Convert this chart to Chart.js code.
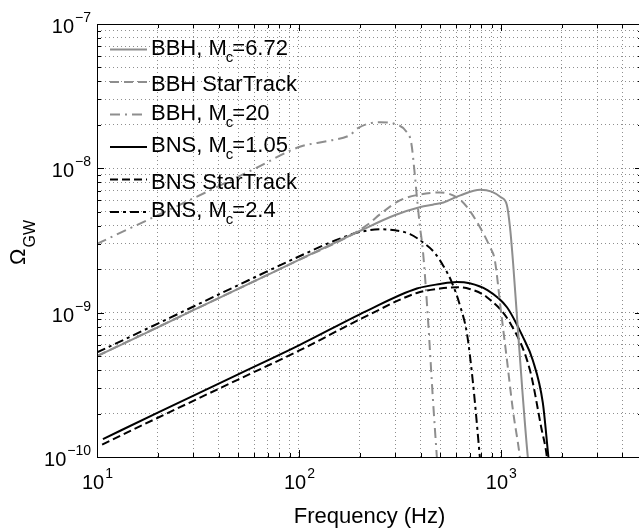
<!DOCTYPE html>
<html>
<head>
<meta charset="utf-8">
<script src="https://cdn.jsdelivr.net/npm/chart.js@4.4.1/dist/chart.umd.min.js"></script>
<style>
    html, body { margin: 0; padding: 0; background: #fff; overflow: hidden; }
    #wrap { position: relative; width: 645px; height: 528px; }
</style>
</head>
<body>
<div id="wrap"><canvas id="gw-chart" width="645" height="528"></canvas></div>
<script>
// Omega_GW spectra (frequency in Hz)
const bbh672Freq = [10, 20, 30, 50, 100, 200, 300, 400, 460, 520, 630, 790, 900, 1000, 1070, 1110, 1150, 1210, 1280, 1360, 1420];
const bbh672Omega = [5.0e-10, 7.9e-10, 1.04e-9, 1.46e-9, 2.32e-9, 3.68e-9, 4.75e-9, 5.4e-9, 5.6e-9, 5.8e-9, 6.5e-9, 7.1e-9, 6.9e-9, 6.3e-9, 5.6e-9, 3.9e-9, 2.2e-9, 8.2e-10, 2.8e-10, 1.0e-10, 6e-11];

const bbhStarFreq = [10, 30, 100, 180, 220, 252, 316, 400, 500, 605, 679, 787, 883, 933, 1000, 1072, 1148, 1242, 1290];
const bbhStarOmega = [5.0e-10, 1.04e-9, 2.32e-9, 3.43e-9, 4.1e-9, 4.8e-9, 6.0e-9, 6.6e-9, 6.8e-9, 6.3e-9, 5.4e-9, 3.92e-9, 2.85e-9, 2.32e-9, 1.04e-9, 4.7e-10, 2.1e-10, 1.0e-10, 6e-11];

const bbh20Freq = [10, 30, 60, 101, 140, 179, 196, 252, 299, 340, 360, 375, 384, 397, 411, 435, 461, 482, 495];
const bbh20Omega = [3.0e-9, 6.2e-9, 9.9e-9, 1.41e-8, 1.55e-8, 1.70e-8, 1.90e-8, 2.09e-8, 2.03e-8, 1.8e-8, 1.5e-8, 9.0e-9, 6.3e-9, 4.0e-9, 2.7e-9, 9.3e-10, 2.5e-10, 1.0e-10, 6e-11];

const bns105Freq = [10.7, 20, 50, 100, 217, 384, 500, 605, 700, 853, 1072, 1285, 1438, 1614, 1720, 1770];
const bns105Omega = [1.33e-10, 2.03e-10, 3.74e-10, 5.94e-10, 1.03e-9, 1.47e-9, 1.58e-9, 1.63e-9, 1.6e-9, 1.44e-9, 1.09e-9, 6.8e-10, 4.7e-10, 2.37e-10, 1.0e-10, 7e-11];

const bnsStarFreq = [10.6, 20, 50, 100, 217, 384, 500, 605, 700, 853, 1110, 1393, 1585, 1690, 1730];
const bnsStarOmega = [1.22e-10, 1.87e-10, 3.44e-10, 5.45e-10, 9.5e-10, 1.37e-9, 1.47e-9, 1.5e-9, 1.46e-9, 1.28e-9, 8.5e-10, 4.0e-10, 1.6e-10, 1.0e-10, 7e-11];

const bns24Freq = [10, 20, 50, 100, 150, 200, 258, 300, 355, 420, 470, 520, 571, 630, 679, 727, 787, 805];
const bns24Omega = [5.3e-10, 8.4e-10, 1.55e-9, 2.45e-9, 3.15e-9, 3.62e-9, 3.78e-9, 3.72e-9, 3.5e-9, 3.0e-9, 2.6e-9, 2.1e-9, 1.63e-9, 1.1e-9, 7.2e-10, 3.3e-10, 1.0e-10, 7e-11];

// axes
const xDecades = [10, 100, 1000];
const xMajorTicks = [10, 100, 1000];
const xMajorExponents = ['1', '2', '3'];
const yDecades = [1e-10, 1e-9, 1e-8];
const yMajorTicks = [1e-10, 1e-9, 1e-8, 1e-7];
const yMajorExponents = ['\u221210', '\u22129', '\u22128', '\u22127'];
const mantissas = [1, 2, 3, 4, 5, 6, 7, 8, 9];

const xMin = 10;
const xMax = 5000;
const yMin = 1e-10;
const yMax = 1e-7;

const xTickValues = xDecades.flatMap((d) => mantissas.map((m) => m * d)).filter((v) => v <= xMax);
const yTickValues = yDecades.flatMap((d) => mantissas.map((m) => m * d)).concat([yMax]);

const GRAY = '#8e8e8e';
const BLACK = '#000000';
const FONT = '"Liberation Sans", Arial, Helvetica, sans-serif';

const toPoints = (freq, omega) => freq.map((f, i) => ({ x: f, y: omega[i] }));

const series = [
    { label: ['BBH, M', 'c', '=6.72'], color: GRAY, dash: [], freq: bbh672Freq, omega: bbh672Omega },
    { label: ['BBH StarTrack'], color: GRAY, dash: [9, 5], freq: bbhStarFreq, omega: bbhStarOmega },
    { label: ['BBH, M', 'c', '=20'], color: GRAY, dash: [10, 5, 2, 5], freq: bbh20Freq, omega: bbh20Omega },
    { label: ['BNS, M', 'c', '=1.05'], color: BLACK, dash: [], freq: bns105Freq, omega: bns105Omega },
    { label: ['BNS StarTrack'], color: BLACK, dash: [8, 4], freq: bnsStarFreq, omega: bnsStarOmega },
    { label: ['BNS, M', 'c', '=2.4'], color: BLACK, dash: [9, 4, 3, 4], freq: bns24Freq, omega: bns24Omega },
];

const drawPower = (ctx, exp, x, baseline, align) => {
    ctx.font = `20px ${FONT}`;
    const wBase = ctx.measureText('10').width;
    ctx.font = `14px ${FONT}`;
    const wExp = ctx.measureText(exp).width;
    const left = align === 'center' ? x - (wBase + wExp) / 2 : x - wBase - wExp;
    ctx.font = `20px ${FONT}`;
    ctx.fillText('10', left, baseline);
    ctx.font = `14px ${FONT}`;
    ctx.fillText(exp, left + wBase + 1, baseline - 11);
};

const decorations = {
    id: 'decorations',
    afterDatasetsDraw(chart) {
        const { ctx, chartArea: a, scales: { x, y } } = chart;
        ctx.save();
        ctx.setLineDash([]);
        ctx.strokeStyle = '#000';
        ctx.fillStyle = '#000';
        ctx.lineWidth = 1;

        // box
        ctx.strokeRect(Math.round(a.left) + 0.5, Math.round(a.top) + 0.5, Math.round(a.right - a.left), Math.round(a.bottom - a.top));

        // inward tick marks
        ctx.beginPath();
        xTickValues.forEach((v) => {
            const px = Math.round(x.getPixelForValue(v)) + 0.5;
            const len = xMajorTicks.includes(v) ? 7 : 4;
            ctx.moveTo(px, a.bottom); ctx.lineTo(px, a.bottom - len);
            ctx.moveTo(px, a.top); ctx.lineTo(px, a.top + len);
        });
        yTickValues.forEach((v) => {
            const py = Math.round(y.getPixelForValue(v)) + 0.5;
            const len = yMajorTicks.includes(v) ? 7 : 4;
            ctx.moveTo(a.left, py); ctx.lineTo(a.left + len, py);
            ctx.moveTo(a.right, py); ctx.lineTo(a.right - len, py);
        });
        ctx.stroke();

        // tick labels
        ctx.textBaseline = 'alphabetic';
        ctx.textAlign = 'left';
        xMajorTicks.forEach((v, i) => {
            drawPower(ctx, xMajorExponents[i], x.getPixelForValue(v), a.bottom + 32, 'center');
        });
        yMajorTicks.forEach((v, i) => {
            drawPower(ctx, yMajorExponents[i], a.left - 7, y.getPixelForValue(v) + 9, 'right');
        });

        // axis titles
        ctx.font = `22px ${FONT}`;
        ctx.textAlign = 'center';
        ctx.fillText('Frequency (Hz)', (a.left + a.right) / 2, 523);

        ctx.save();
        ctx.translate(25, 265);
        ctx.rotate(-Math.PI / 2);
        ctx.textAlign = 'left';
        ctx.font = `22px ${FONT}`;
        ctx.fillText('\u03a9', 0, 0);
        const wOmega = ctx.measureText('\u03a9').width;
        ctx.font = `16px ${FONT}`;
        ctx.fillText('GW', wOmega + 1, 10);
        ctx.restore();

        // legend
        ctx.textAlign = 'left';
        series.forEach((s, i) => {
            const ly = 49.5 + i * 32.5;
            ctx.beginPath();
            ctx.strokeStyle = s.color;
            ctx.lineWidth = 2;
            ctx.setLineDash(s.dash);
            ctx.moveTo(110, ly);
            ctx.lineTo(147, ly);
            ctx.stroke();
            ctx.setLineDash([]);

            ctx.fillStyle = '#000';
            ctx.font = `22px ${FONT}`;
            if (s.label.length === 1) {
                ctx.fillText(s.label[0], 151, ly + 9);
            } else {
                const base = ly + 5;
                ctx.fillText(s.label[0], 151, base);
                const w0 = ctx.measureText(s.label[0]).width;
                ctx.font = `15px ${FONT}`;
                ctx.fillText(s.label[1], 151 + w0 - 1, base + 7);
                const w1 = ctx.measureText(s.label[1]).width;
                ctx.font = `22px ${FONT}`;
                ctx.fillText(s.label[2], 151 + w0 + w1 - 2, base);
            }
        });

        ctx.restore();
    },
};

new Chart(document.getElementById('gw-chart'), {
    type: 'line',
    data: {
        datasets: series.map((s) => ({
            label: s.label.join(''),
            data: toPoints(s.freq, s.omega),
            borderColor: s.color,
            borderDash: s.dash,
            borderWidth: 2,
            pointRadius: 0,
            fill: false,
            cubicInterpolationMode: 'monotone',
        })),
    },
    options: {
        responsive: false,
        animation: false,
        layout: {
            padding: { left: 97, top: 24, right: 3, bottom: 71 },
        },
        plugins: {
            legend: { display: false },
            tooltip: { enabled: false },
        },
        scales: {
            x: {
                type: 'logarithmic',
                min: xMin,
                max: xMax,
                afterBuildTicks: (scale) => {
                    scale.ticks = xTickValues.map((v) => ({ value: v }));
                },
                ticks: { display: false },
                grid: { color: GRAY, lineWidth: 1, drawTicks: false },
                border: { display: false, dash: [1, 3] },
            },
            y: {
                type: 'logarithmic',
                min: yMin,
                max: yMax,
                afterBuildTicks: (scale) => {
                    scale.ticks = yTickValues.map((v) => ({ value: v }));
                },
                ticks: { display: false },
                grid: { color: GRAY, lineWidth: 1, drawTicks: false },
                border: { display: false, dash: [1, 3] },
            },
        },
    },
    plugins: [decorations],
});
</script>
</body>
</html>
